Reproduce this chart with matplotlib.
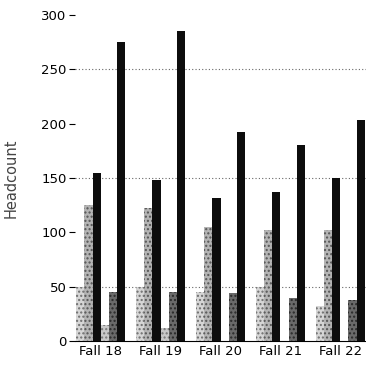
import matplotlib
matplotlib.use("Agg")
import matplotlib.pyplot as plt
import numpy as np

terms = ["Fall 18", "Fall 19", "Fall 20", "Fall 21", "Fall 22"]

# six series per term
s1 = [50, 50, 45, 50, 32]
s2 = [125, 122, 105, 102, 102]
s3 = [155, 148, 132, 137, 150]
s4 = [15, 12, 0, 0, 0]
s5 = [45, 45, 44, 40, 38]
s6 = [275, 285, 192, 180, 203]

series = [s1, s2, s3, s4, s5, s6]
colors = ["#d6d6d6", "#b4b4b4", "#0d0d0d", "#c8c8c8", "#6a6a6a", "#0d0d0d"]
hatchcol = ["#6e6e6e", "#555555", "#0d0d0d", "#777777", "#2a2a2a", "#0d0d0d"]
hatches = ["....", "....", None, "....", "....", None]

fig = plt.figure(figsize=(3.66, 3.66), dpi=100)
ax = fig.add_axes([0.205, 0.068, 0.795, 0.891])

x = np.arange(len(terms))
w = 0.137
for i, vals in enumerate(series):
    off = (i - 2.5) * w
    ax.bar(x + off, vals, width=w, color=colors[i], edgecolor=hatchcol[i],
           hatch=hatches[i], linewidth=0, zorder=3)

# dotted guide lines
for g in [50, 150, 250]:
    ax.axhline(g, color="#666666", linestyle=(0, (1, 2)), linewidth=0.8, zorder=1)

ax.set_xlim(-0.43, 4.43)
ax.set_ylim(0, 300)
ax.set_yticks(np.arange(0, 301, 50))
ax.set_xticks(x)
ax.set_xticklabels(terms, fontsize=9.5)
ax.tick_params(axis="x", length=0, pad=3)
ax.tick_params(axis="y", length=4, width=0.8, labelsize=9.5, pad=2)
for s in ["top", "right", "left"]:
    ax.spines[s].set_visible(False)
ax.spines["bottom"].set_linewidth(0.8)
ax.set_ylabel("Headcount", fontsize=10.5, color="#444444", labelpad=16)

fig.savefig("out.png", dpi=100)
